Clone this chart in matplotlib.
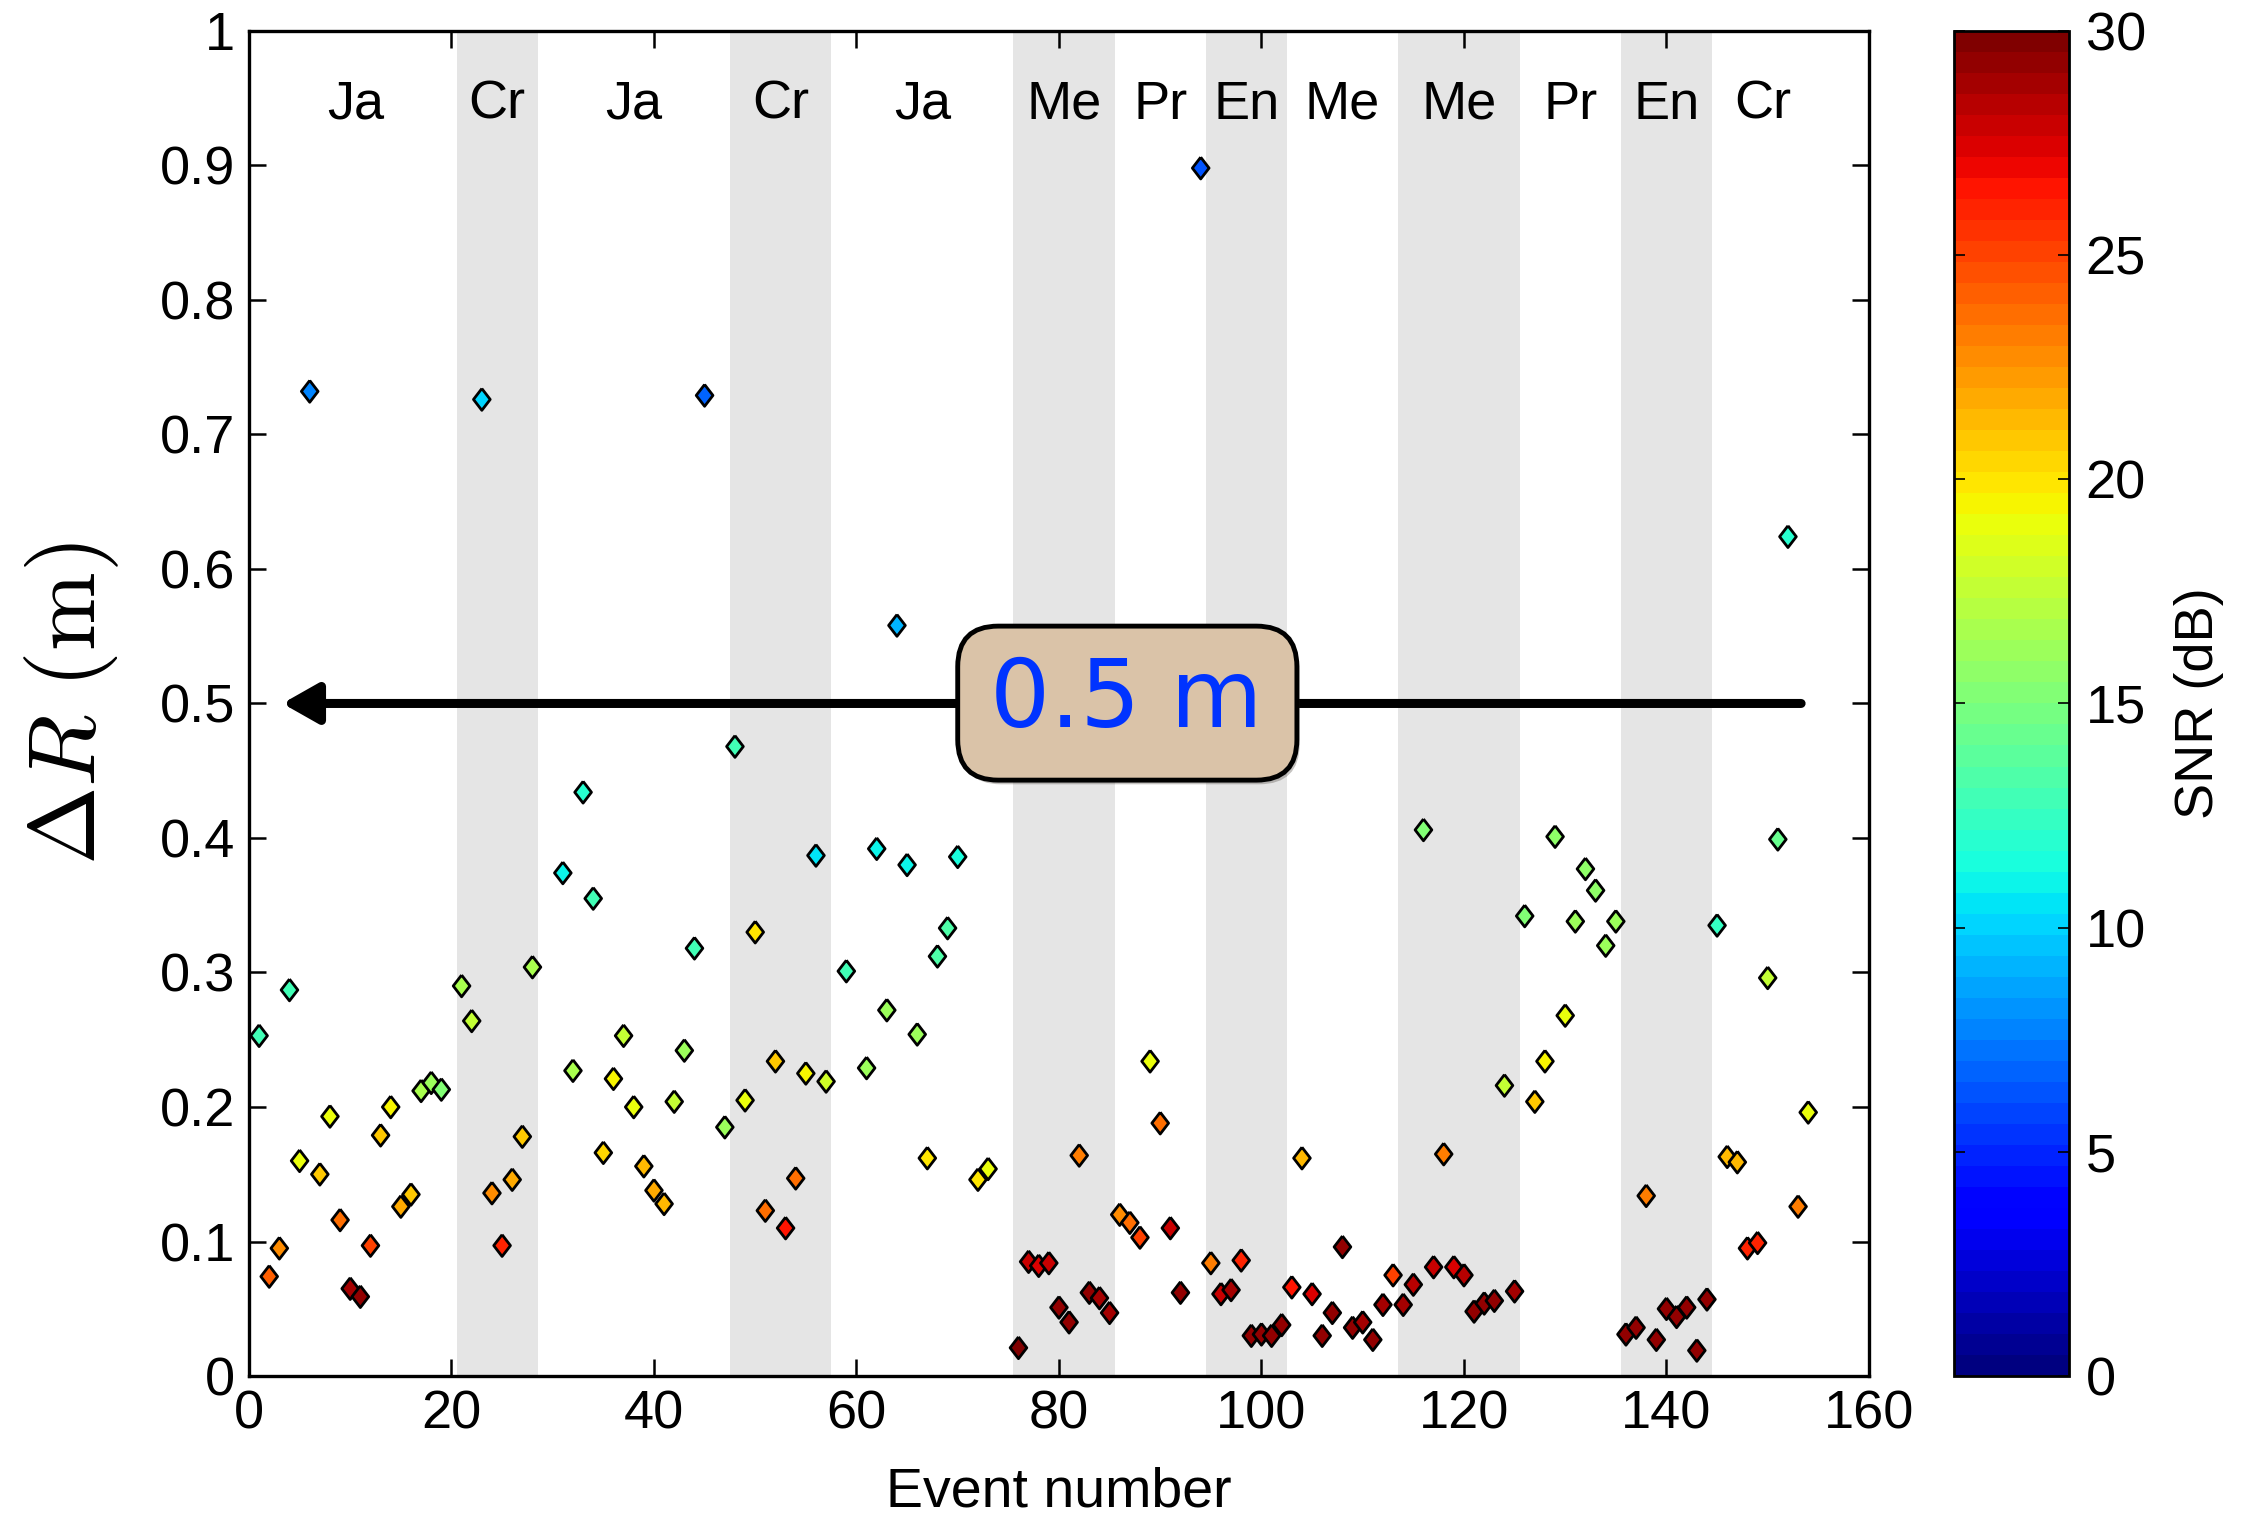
import numpy as np
import matplotlib
matplotlib.use('Agg')
import matplotlib.pyplot as plt
from matplotlib.patches import FancyBboxPatch
import matplotlib.patheffects as pe

plt.rcParams['font.family'] = ['Liberation Sans', 'DejaVu Sans']
plt.rcParams['mathtext.fontset'] = 'cm'

# event number, range error (m), SNR (dB)
events = [1, 2, 3, 4, 5, 6, 7, 8, 9, 10, 11, 12, 13, 14, 15, 16, 17, 18, 19,
          21, 22, 23, 24, 25, 26, 27, 28,
          31, 32, 33, 34, 35, 36, 37, 38, 39, 40, 41, 42, 43, 44, 45,
          47, 48, 49, 50, 51, 52, 53, 54, 55, 56, 57,
          59, 61, 62, 63, 64, 65, 66, 67, 68, 69, 70, 72, 73,
          76, 77, 78, 79, 80, 81, 82, 83, 84, 85,
          86, 87, 88, 89, 90, 91, 92, 94,
          95, 96, 97, 98, 99, 100, 101, 102,
          103, 104, 105, 106, 107, 108, 109, 110, 111, 112, 113,
          114, 115, 116, 117, 118, 119, 120, 121, 122, 123, 124, 125,
          126, 127, 128, 129, 130, 131, 132, 133, 134, 135,
          136, 137, 138, 139, 140, 141, 142, 143, 144,
          145, 146, 147, 148, 149, 150, 151, 152, 153, 154]

dR = [0.253, 0.074, 0.095, 0.287, 0.160, 0.732, 0.150, 0.193, 0.116, 0.065,
      0.059, 0.097, 0.179, 0.200, 0.126, 0.135, 0.212, 0.218, 0.213,
      0.290, 0.264, 0.726, 0.136, 0.097, 0.146, 0.178, 0.304,
      0.374, 0.227, 0.434, 0.355, 0.166, 0.221, 0.253, 0.200, 0.156, 0.138,
      0.128, 0.204, 0.242, 0.318, 0.729,
      0.185, 0.468, 0.205, 0.330, 0.123, 0.234, 0.110, 0.147, 0.225, 0.387, 0.219,
      0.301, 0.229, 0.392, 0.272, 0.558, 0.380, 0.254, 0.162, 0.312, 0.333,
      0.386, 0.146, 0.154,
      0.021, 0.085, 0.082, 0.084, 0.051, 0.040, 0.164, 0.062, 0.058, 0.047,
      0.120, 0.114, 0.103, 0.234, 0.188, 0.110, 0.062, 0.898,
      0.084, 0.061, 0.064, 0.086, 0.030, 0.031, 0.030, 0.038,
      0.066, 0.162, 0.061, 0.030, 0.047, 0.096, 0.036, 0.040, 0.027, 0.053, 0.075,
      0.053, 0.068, 0.406, 0.081, 0.165, 0.081, 0.075, 0.048, 0.054, 0.056,
      0.216, 0.063,
      0.342, 0.204, 0.234, 0.401, 0.268, 0.338, 0.377, 0.361, 0.320, 0.338,
      0.031, 0.036, 0.134, 0.027, 0.050, 0.044, 0.051, 0.019, 0.057,
      0.335, 0.163, 0.159, 0.095, 0.099, 0.296, 0.399, 0.624, 0.126, 0.196]

snr = [13.0, 24.0, 22.5, 13.0, 18.8, 7.8, 21.0, 19.0, 23.5, 29.0,
       29.5, 25.0, 21.0, 19.5, 22.0, 21.0, 16.5, 16.0, 15.0,
       16.8, 17.5, 10.0, 22.5, 26.0, 22.0, 21.0, 16.8,
       11.0, 16.7, 12.0, 12.8, 20.5, 19.5, 17.5, 18.8, 21.5, 22.0,
       21.5, 17.5, 16.0, 12.8, 7.0,
       16.0, 12.8, 18.8, 20.0, 23.5, 21.0, 26.3, 23.5, 19.5, 10.5, 18.0,
       12.8, 16.0, 10.8, 16.0, 9.0, 11.0, 16.0, 20.0, 13.5, 13.5,
       11.5, 20.0, 19.0,
       30.0, 28.0, 27.5, 28.0, 29.5, 29.5, 23.0, 29.5, 29.0, 29.0,
       22.5, 23.5, 25.0, 19.0, 23.5, 28.0, 29.5, 6.5,
       23.0, 28.0, 29.0, 26.0, 29.5, 29.5, 29.5, 29.5,
       26.5, 21.5, 27.5, 29.5, 29.5, 29.5, 29.5, 29.0, 29.5, 29.0, 25.0,
       29.0, 28.3, 15.0, 28.0, 23.0, 27.5, 28.5, 29.5, 29.5, 29.5,
       17.5, 29.0,
       15.0, 21.0, 19.5, 15.5, 18.8, 16.0, 15.5, 15.5, 16.3, 16.0,
       29.5, 29.5, 23.0, 29.5, 29.5, 29.5, 29.5, 29.5, 29.5,
       12.3, 21.5, 21.5, 26.0, 26.0, 17.5, 14.5, 12.0, 23.0, 18.8]

# site segments along the event axis
seg_labels = ['Ja', 'Cr', 'Ja', 'Cr', 'Ja', 'Me', 'Pr', 'En', 'Me', 'Me', 'Pr', 'En', 'Cr']
seg_edges = [0.5, 20.5, 28.5, 47.5, 57.5, 75.5, 85.5, 94.5, 102.5, 113.5, 125.5, 135.5, 144.5, 154.5]
shaded = [1, 3, 5, 7, 9, 11]

fig = plt.figure(figsize=(22.45, 15.21), dpi=100)
ax = fig.add_axes([0.1109, 0.0953, 0.7216, 0.8844])
cax = fig.add_axes([0.8706, 0.0953, 0.0510, 0.8844])

for i in shaded:
    ax.axvspan(seg_edges[i], seg_edges[i + 1], color='#e5e5e5', lw=0, zorder=0)

for i, lab in enumerate(seg_labels):
    ax.text((seg_edges[i] + seg_edges[i + 1]) / 2, 0.945, lab, ha='center', va='center',
            fontsize=39, zorder=1)

diamond = [(0, 1), (0.77, 0), (0, -1), (-0.77, 0), (0, 1)]
cmap = plt.get_cmap('jet', 64)
sc = ax.scatter(events, dR, c=snr, cmap=cmap, vmin=0, vmax=30, marker=diamond,
                s=245, edgecolors='k', linewidths=2.0, zorder=3)

# 0.5 m arrow and label box
ax.annotate('', xy=(3.3, 0.5), xytext=(153.3, 0.5),
            arrowprops=dict(arrowstyle='-|>,head_length=0.6,head_width=0.34',
                            lw=6.5, color='k', mutation_scale=36,
                            shrinkA=0, shrinkB=0),
            zorder=4)
box = FancyBboxPatch((70.0, 0.443), 33.5, 0.1145,
                     boxstyle='round,pad=0,rounding_size=4.0',
                     mutation_aspect=0.00753, facecolor='#dac3a8',
                     edgecolor='k', lw=3.5, zorder=5,
                     path_effects=[pe.SimplePatchShadow(offset=(2, -3), alpha=0.3), pe.Normal()])
ax.add_patch(box)
ax.text(86.6, 0.502, '0.5 m', ha='center', va='center', fontsize=68,
        color='#0033ff', family='DejaVu Sans', zorder=6)

ax.set_xlim(0, 160)
ax.set_ylim(0, 1)
ax.set_xticks(np.arange(0, 161, 20))
ax.set_yticks(np.arange(0, 1.01, 0.1))
ax.set_yticklabels(['0', '0.1', '0.2', '0.3', '0.4', '0.5', '0.6', '0.7', '0.8', '0.9', '1'])
ax.tick_params(direction='in', length=12, width=1.8, labelsize=39,
               top=True, right=True, pad=10)
for sp in ax.spines.values():
    sp.set_linewidth(2.4)
ax.set_xlabel('Event number', fontsize=40, labelpad=19)
ax.set_ylabel(r'$\Delta R\ (\mathrm{m})$', fontsize=68, labelpad=28)

cb = fig.colorbar(sc, cax=cax)
cb.set_ticks(np.arange(0, 31, 5))
cb.ax.tick_params(direction='in', length=8, width=1.2, labelsize=39,
                  left=True, right=True, pad=12)
cb.outline.set_linewidth(2.0)
cb.set_label('SNR (dB)', fontsize=39, labelpad=20)

fig.savefig('out.png', dpi=100)
